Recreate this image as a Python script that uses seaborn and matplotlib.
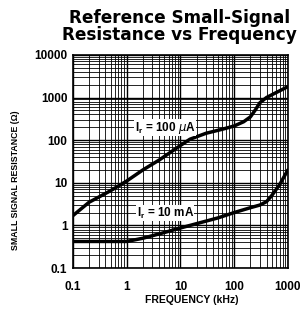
import numpy as np
import pandas as pd
import matplotlib
matplotlib.use("Agg")
import matplotlib.pyplot as plt
import seaborn as sns
from matplotlib.ticker import FixedLocator, FixedFormatter, LogLocator, NullFormatter

# curve (frequency in kHz, resistance in ohm)
freq_100ua = [0.1, 0.2, 0.3, 0.5, 1, 2, 4, 10, 15, 30, 60, 100, 150, 200, 250, 300, 400, 600, 1000]
res_100ua = [1.7, 3.5, 4.6, 6.5, 11, 20, 34, 75, 105, 145, 180, 215, 270, 350, 520, 750, 1000, 1300, 1800]

freq_10ma = [0.1, 0.3, 1, 2, 5, 10, 20, 50, 100, 200, 300, 400, 500, 700, 1000]
res_10ma = [0.42, 0.42, 0.42, 0.5, 0.68, 0.87, 1.1, 1.5, 2.0, 2.6, 3.0, 3.6, 5.0, 9.0, 20]

yticks = [0.1, 1, 10, 100, 1000, 10000]
ytick_labels = ["0.1", "1", "10", "100", "1000", "10000"]
xticks = [0.1, 1, 10, 100, 1000]
xtick_labels = ["0.1", "1", "10", "100", "1000"]

df = pd.concat([
    pd.DataFrame({"freq": freq_100ua, "res": res_100ua, "cond": "100uA"}),
    pd.DataFrame({"freq": freq_10ma, "res": res_10ma, "cond": "10mA"}),
])

sns.set_style("white")
plt.rcParams["font.family"] = ["Liberation Sans", "DejaVu Sans"]
plt.rcParams["text.color"] = "black"
plt.rcParams["xtick.color"] = "black"
plt.rcParams["ytick.color"] = "black"

fig = plt.figure(figsize=(3.04, 3.21), dpi=100)
ax = fig.add_axes([0.240, 0.165, 0.707, 0.664])

sns.lineplot(data=df, x="freq", y="res", hue="cond", palette=["black", "black"],
             linewidth=2.5, legend=False, ax=ax, sort=False, estimator=None)

ax.set_xscale("log")
ax.set_yscale("log")
ax.set_xlim(0.1, 1000)
ax.set_ylim(0.1, 10000)

ax.xaxis.set_major_locator(FixedLocator(xticks))
ax.xaxis.set_major_formatter(FixedFormatter(xtick_labels))
ax.yaxis.set_major_locator(FixedLocator(yticks))
ax.yaxis.set_major_formatter(FixedFormatter(ytick_labels))
ax.xaxis.set_minor_locator(LogLocator(base=10, subs=np.arange(2, 10)))
ax.yaxis.set_minor_locator(LogLocator(base=10, subs=np.arange(2, 10)))
ax.xaxis.set_minor_formatter(NullFormatter())
ax.yaxis.set_minor_formatter(NullFormatter())

ax.grid(True, which="major", color="black", linewidth=1.0)
ax.grid(True, which="minor", color="black", linewidth=0.6)
ax.tick_params(which="both", length=0, labelsize=8.5, labelcolor="black")
ax.tick_params(axis="x", pad=9)
ax.tick_params(axis="y", pad=4)
for lab in ax.get_xticklabels() + ax.get_yticklabels():
    lab.set_fontweight("bold")
for s in ax.spines.values():
    s.set_color("black")
    s.set_linewidth(1.2)

box = dict(boxstyle="square,pad=0.05", facecolor="white", edgecolor="none")
ax.text(5.2, 195, r"I$_\mathregular{r}$ = 100 $\mu$A", fontsize=8.5, fontweight="bold",
        ha="center", va="center", bbox=box)
ax.text(5.2, 1.95, r"I$_\mathregular{r}$ = 10 mA", fontsize=8.5, fontweight="bold",
        ha="center", va="center", bbox=box)

ax.set_xlabel("")
ax.set_ylabel("")
fig.text(192 / 304, 1 - 300 / 321, "FREQUENCY (kHz)", fontsize=7.5, fontweight="bold",
         ha="center", va="center")
fig.text(16 / 304, 1 - 180 / 321, "SMALL SIGNAL RESISTANCE (Ω)", fontsize=6.3,
         fontweight="bold", ha="center", va="center", rotation=90)

fig.text(0.59, 0.972, "Reference Small-Signal\nResistance vs Frequency", fontsize=12.2,
         fontweight="bold", family="DejaVu Sans", ha="center", va="top", linespacing=0.95)

fig.savefig("out.png", dpi=100)
